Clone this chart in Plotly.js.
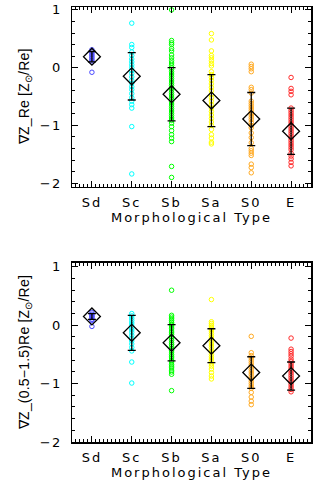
<!DOCTYPE html>
<html><head><meta charset="utf-8">
<script src="https://cdn.plot.ly/plotly-3.0.1.min.js"></script>
<style>
html,body{margin:0;padding:0;background:#fff}
#plot{width:333px;height:485px}
.xtick text, .x2tick text, .g-xtitle text, .g-x2title text{letter-spacing:2px}
.ytick text, .y2tick text{letter-spacing:1.5px}
.annotation text{letter-spacing:0.2px}
</style>
</head><body><div id="plot"></div>
<script>
var categories = ["Sd","Sc","Sb","Sa","S0","E"];
var colors = ["#4848ff","#00ffff","#00ff00","#ffff00","#ffaa22","#ff2a2a"];
var ytitles = ['\u2207Z_Re [Z<sub>\u2299</sub>/Re]', '\u2207Z_(0.5\u22121.5)Re [Z<sub>\u2299</sub>/Re]'];

// Top panel: gradient within Re
var top_Sd = [0.31,0.28,0.25,0.22,0.19,0.16,0.13,0.10,-0.08];
var top_Sc = [0.77,0.40,0.35,0.27,0.21,0.15,0.10,0.05,0.0,-0.05,-0.10,-0.16,-0.22,-0.27,-0.33,-0.38,-0.45,-0.52,-0.58,-0.64,-0.70,-1.02,-1.84];
var top_Sb = [1.0,0.47,0.43,0.40,0.33,0.29,0.22,0.17,0.12,0.08,0.04,0.0,-0.03,-0.07,-0.11,-0.15,-0.19,-0.23,-0.27,-0.31,-0.35,-0.39,-0.43,-0.47,-0.51,-0.55,-0.59,-0.63,-0.67,-0.71,-0.75,-0.79,-0.83,-0.87,-0.91,-0.96,-1.02,-1.09,-1.16,-1.22,-1.28,-1.71,-1.90];
var top_Sa = [0.59,0.48,0.29,0.21,0.17,0.12,0.07,0.03,-0.07,-0.12,-0.17,-0.22,-0.28,-0.34,-0.40,-0.46,-0.52,-0.58,-0.64,-0.70,-0.76,-0.82,-0.88,-0.94,-1.00,-1.07,-1.16,-1.22,-1.29,-1.32];
var top_S0 = [0.06,0.02,-0.02,-0.07,-0.34,-0.38,-0.44,-0.58,-0.62,-0.66,-0.70,-0.74,-0.78,-0.82,-0.86,-0.90,-0.95,-1.00,-1.04,-1.13,-1.21,-1.30,-1.40,-1.44,-1.48,-1.52,-1.67,-1.73,-1.82];
var top_E  = [-0.17,-0.36,-0.41,-0.47,-0.70,-0.74,-0.78,-0.82,-0.86,-0.90,-0.94,-0.98,-1.02,-1.06,-1.10,-1.14,-1.18,-1.22,-1.26,-1.30,-1.34,-1.38,-1.42,-1.48,-1.53,-1.58,-1.64,-1.70];
var top_mean = [0.19,-0.15,-0.46,-0.57,-0.89,-1.10];
var top_err  = [0.09,0.41,0.46,0.45,0.46,0.40];

// Bottom panel: gradient between 0.5 and 1.5 Re
var bot_Sd = [0.22,0.19,0.17,0.15,0.13,0.10,0.08,-0.02];
var bot_Sc = [0.20,0.16,0.12,0.08,0.04,0.0,-0.04,-0.08,-0.12,-0.17,-0.22,-0.27,-0.32,-0.38,-0.44,-0.63,-0.99];
var bot_Sb = [0.60,0.17,0.14,0.11,0.08,0.05,0.02,0.0,-0.03,-0.06,-0.10,-0.13,-0.16,-0.20,-0.23,-0.26,-0.30,-0.33,-0.36,-0.40,-0.43,-0.46,-0.50,-0.53,-0.56,-0.60,-0.63,-0.67,-0.70,-0.73,-0.77,-0.80,-0.84,-1.12];
var bot_Sa = [0.44,0.06,0.03,0.0,-0.03,-0.06,-0.10,-0.14,-0.18,-0.22,-0.26,-0.30,-0.34,-0.38,-0.42,-0.46,-0.50,-0.54,-0.58,-0.62,-0.66,-0.70,-0.75,-0.81,-0.87,-0.92];
var bot_S0 = [-0.19,-0.47,-0.52,-0.56,-0.60,-0.64,-0.68,-0.72,-0.76,-0.80,-0.84,-0.88,-0.92,-0.96,-1.00,-1.04,-1.08,-1.15,-1.23,-1.30,-1.36];
var bot_E  = [-0.22,-0.41,-0.45,-0.49,-0.53,-0.58,-0.62,-0.66,-0.70,-0.74,-0.78,-0.82,-0.86,-0.90,-0.94,-0.98,-1.02,-1.06,-1.10,-1.14];
var bot_mean = [0.15,-0.13,-0.30,-0.35,-0.81,-0.87];
var bot_err  = [0.05,0.30,0.31,0.29,0.27,0.24];

var topSets = [top_Sd,top_Sc,top_Sb,top_Sa,top_S0,top_E];
var botSets = [bot_Sd,bot_Sc,bot_Sb,bot_Sa,bot_S0,bot_E];
var xpos = categories.map(function(c,i){return i+1;});

var traces = [];
function addPanel(sets, means, errs, xa, ya){
  sets.forEach(function(vals,i){
    traces.push({type:'scatter',mode:'markers',xaxis:xa,yaxis:ya,
      x:vals.map(function(){return xpos[i];}), y:vals,
      marker:{symbol:'circle-open',size:4.5,color:colors[i],line:{width:1,color:colors[i]}},
      hoverinfo:'y',showlegend:false});
  });
  traces.push({type:'scatter',mode:'markers',xaxis:xa,yaxis:ya,
    x:xpos, y:means,
    error_y:{type:'data',array:errs,visible:true,color:'#000',thickness:1.3,width:4},
    marker:{symbol:'diamond-open',size:13,color:'#000',line:{width:1.3,color:'#000'}},
    showlegend:false});
}
addPanel(topSets, top_mean, top_err, 'x', 'y');
addPanel(botSets, bot_mean, bot_err, 'x2', 'y2');

var fnt = {family:'DejaVu Sans, sans-serif', size:13, color:'#000'};
var yfnt = {family:'Liberation Sans, Arial, sans-serif', size:14, color:'#000'};
function xax(anchor){
  return {anchor:anchor, range:[0.5,6.5], tickmode:'array', tickvals:xpos, ticktext:categories,
    ticks:'inside', ticklen:6, tickwidth:1, tickcolor:'#000', showline:true, linecolor:'#000', linewidth:1.5,
    mirror:'allticks', showgrid:false, zeroline:false, tickfont:fnt, ticklabelstandoff:3,
    minor:{dtick:0.1, tick0:0.5, ticks:'inside', ticklen:3, tickwidth:1, tickcolor:'#000', showgrid:false},
    title:{text:'Morphological Type', font:fnt, standoff:4}};
}
function yax(anchor, domain, range){
  return {anchor:anchor, domain:domain, range:range, tickmode:'array', tickvals:[-2,-1,0,1],
    ticktext:['\u22122','\u22121','0','1'],
    ticks:'inside', ticklen:6, tickwidth:1, tickcolor:'#000', showline:true, linecolor:'#000', linewidth:1.5,
    mirror:'allticks', showgrid:false, zeroline:false, tickfont:fnt, ticklabelstandoff:6,
    minor:{dtick:0.2, tick0:0, ticks:'inside', ticklen:3, tickwidth:1, tickcolor:'#000', showgrid:false}};
}
var layout = {
  width:333, height:485, paper_bgcolor:'#fff', plot_bgcolor:'#fff',
  margin:{l:72, r:22, t:7, b:43},
  font:fnt, showlegend:false,
  xaxis: xax('y'),
  yaxis: yax('x', [0.587,1], [-2.06,1.05]),
  xaxis2: xax('y2'),
  yaxis2: yax('x2', [0,0.412], [-2.0,1.07]),
  annotations: [
    {xref:'paper', yref:'paper', x:-0.197, y:0.793, text:ytitles[0], textangle:-90, showarrow:false, font:yfnt, xanchor:'center', yanchor:'middle'},
    {xref:'paper', yref:'paper', x:-0.197, y:0.207, text:ytitles[1], textangle:-90, showarrow:false, font:yfnt, xanchor:'center', yanchor:'middle'}
  ]
};
Plotly.newPlot('plot', traces, layout, {displayModeBar:false, staticPlot:true});
</script></body></html>
